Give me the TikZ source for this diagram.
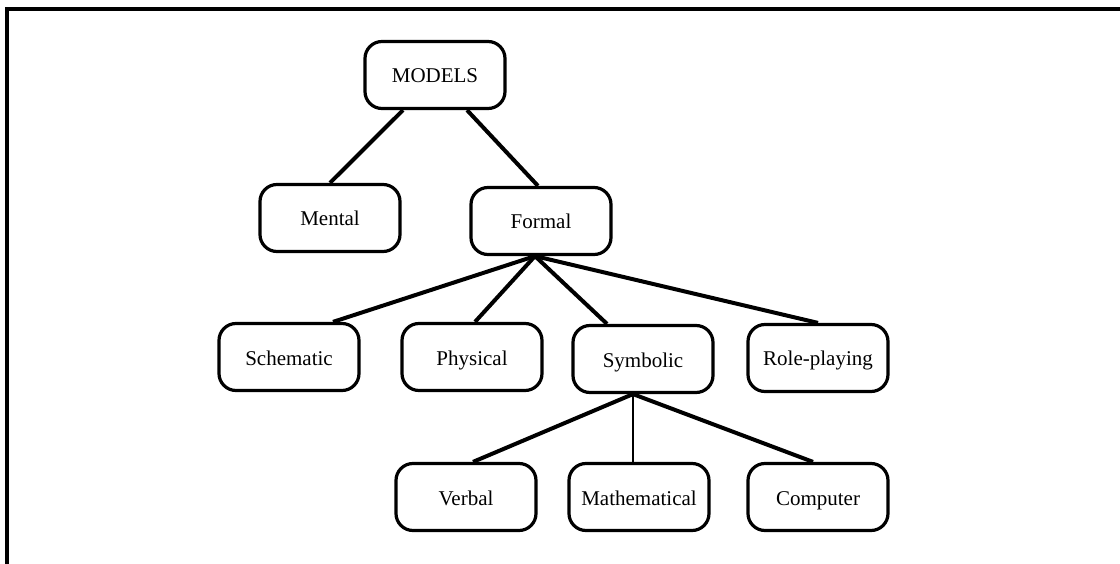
\documentclass[tikz,border=0pt]{standalone}
\usepackage{fontspec}
\setmainfont{Liberation Serif}
\begin{document}
\begin{tikzpicture}[x=1pt,y=-1pt,
  box/.style={draw, line width=3.2pt, rounded corners=17pt,
    minimum width=140pt, minimum height=67pt, inner sep=0pt,
    text height=17pt, text depth=1pt,
    font=\fontsize{21}{25}\selectfont},
  link/.style={line width=4pt},
  thinlink/.style={line width=2pt}]
  \clip (0,0) rectangle (1120,564);
  \useasboundingbox (0,0) rectangle (1120,564);
  % outer frame (runs off the right and bottom edges)
  \draw[line width=3.2pt] (7,600) -- (7,9) -- (1160,9);

  % nodes of the tree
  \node[box] (models) at (435,75)  {MODELS};
  \node[box] (mental) at (330,218) {Mental};
  \node[box] (formal) at (541,221) {Formal};
  \node[box] (schem)  at (289,357) {Schematic};
  \node[box] (phys)   at (472,357) {Physical};
  \node[box] (symb)   at (643,359) {Symbolic};
  \node[box] (role)   at (818,358) {Role-playing};
  \node[box] (verbal) at (466,497) {Verbal};
  \node[box] (math)   at (639,497) {Mathematical};
  \node[box] (comp)   at (818,497) {Computer};

  % first level
  \draw[link] ([xshift=-32pt]models.south) -- (mental.north);
  \draw[link] ([xshift=32pt]models.south) -- ([xshift=-3pt]formal.north);

  % kinds of formal model
  \draw[link] ([xshift=-6pt]formal.south) -- ([xshift=44pt]schem.north);
  \draw[link] ([xshift=-6pt]formal.south) -- ([xshift=3pt]phys.north);
  \draw[link] ([xshift=-6pt]formal.south) -- ([xshift=-36pt]symb.north);
  \draw[link] ([xshift=-6pt]formal.south) -- (role.north);

  % kinds of symbolic model
  \draw[link] ([xshift=-10pt]symb.south) -- ([xshift=7pt]verbal.north);
  \draw[thinlink] ([xshift=-10pt]symb.south) -- ([xshift=-6pt]math.north);
  \draw[link] ([xshift=-10pt]symb.south) -- ([xshift=-5pt]comp.north);
\end{tikzpicture}
\end{document}
